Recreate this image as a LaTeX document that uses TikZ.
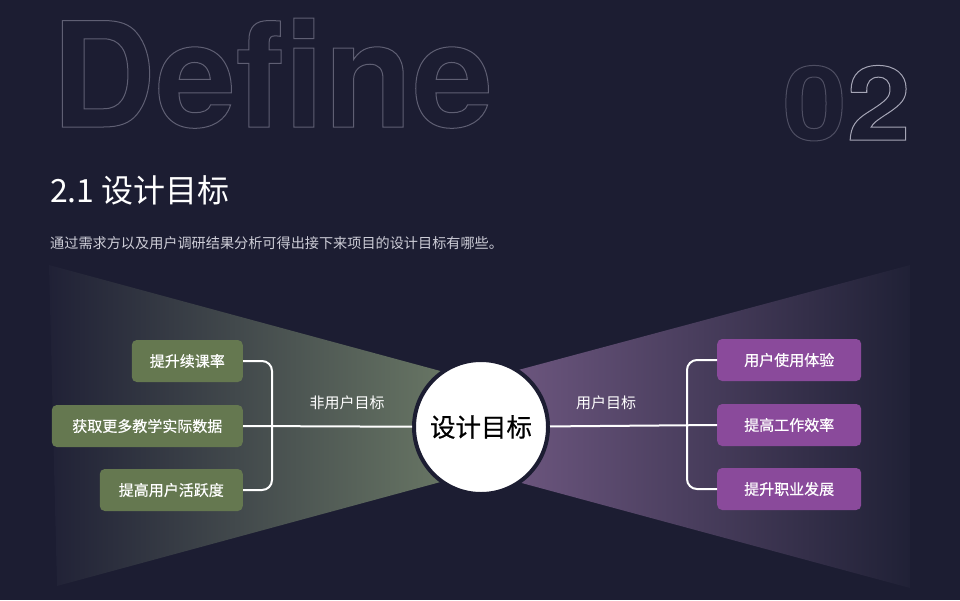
\documentclass[tikz,border=0pt]{standalone}
\usepackage{fontspec}
\setmainfont{Noto Sans CJK SC}
\newfontfamily\herosb[FakeStretch=0.99]{TeX Gyre Heros Bold}
\newfontfamily\herosn[FakeStretch=1.12]{TeX Gyre Heros Bold}
\newfontfamily\cjkmed[FakeBold=0.5]{Noto Sans CJK SC}
\usetikzlibrary{calc}
\definecolor{bg}{RGB}{28,29,50}
\definecolor{outl}{RGB}{95,95,115}
\definecolor{zeroc}{RGB}{78,78,98}
\definecolor{twoc}{RGB}{165,165,182}
\definecolor{gbox}{RGB}{101,120,80}
\definecolor{pbox}{RGB}{138,74,155}
\definecolor{gcone}{RGB}{110,125,104}
\definecolor{pcone}{RGB}{114,90,132}
\definecolor{conedark}{RGB}{32,33,54}
\definecolor{subt}{RGB}{205,205,215}
\newcommand\outlineon{\special{pdf:literal direct 1 Tr 1 w}}
\newcommand\outlineoff{\special{pdf:literal direct 0 Tr}}
\begin{document}
\begin{tikzpicture}[x=1pt,y=-1pt,
  boxst/.style={rounded corners=5pt, text=white, font=\cjkmed\fontsize{15}{18}\selectfont, inner sep=0pt, minimum height=42pt},
  gboxst/.style={boxst, fill=gbox, anchor=east},
  pboxst/.style={boxst, fill=pbox, anchor=west, minimum width=144pt},
  conn/.style={draw=white, line width=2pt},
  lab/.style={text=white, font=\fontsize{15}{18}\selectfont, inner sep=0pt}
]
\fill[bg] (0,0) rectangle (960,600);
\useasboundingbox (0,0) rectangle (960,600);

% big outline texts
\node[anchor=base west, inner sep=0pt, text=outl, font=\herosb\fontsize{146}{146}\selectfont] (define) at (51,127) {\outlineon Define\outlineoff};
\node[anchor=base east, inner sep=0pt, font=\herosn\fontsize{103}{103}\selectfont] (num) at (911,140) {\outlineon\textcolor{zeroc}{0}\textcolor{twoc}{2}\outlineoff};

% title and subtitle
\node[anchor=west, inner sep=0pt, text=white, font=\fontsize{32}{36}\selectfont] (title) at (50,190) {2.1 设计目标};
\node[anchor=west, inner sep=0pt, text=subt, font=\fontsize{14.15}{17}\selectfont] (sub) at (50,243) {通过需求方以及用户调研结果分析可得出接下来项目的设计目标有哪些。};

% cones
\shade[left color=conedark, right color=gcone] (49,265) -- (481,382) -- (481,471) -- (57,586) -- cycle;
\shade[left color=pcone, right color=conedark] (481,380) -- (910,265) -- (910,588) -- (481,472) -- cycle;

% centre
\node[circle, fill=white, draw=bg, line width=4pt, minimum size=134pt, inner sep=0pt, text=black, font=\cjkmed\fontsize{25.5}{30}\selectfont] (c) at (481,427) {设计目标};

% left boxes
\node[gboxst, minimum width=111pt] (l1) at (243,361) {提升续课率};
\node[gboxst, minimum width=191pt] (l2) at (243,426) {获取更多教学实际数据};
\node[gboxst, minimum width=143pt] (l3) at (243,490) {提高用户活跃度};

% right boxes
\node[pboxst] (r1) at (717,360) {用户使用体验};
\node[pboxst] (r2) at (717,425) {提高工作效率};
\node[pboxst] (r3) at (717,489) {提升职业发展};

\coordinate (jl) at (272,426);
\coordinate (jr) at (687,426);

% connectors
\draw[conn] (c) -- (l2.east);
\draw[conn, rounded corners=10pt] (l1.east) -- (l1.east -| jl) -- (l3.east -| jl) -- (l3.east);
\draw[conn] (c) -- (r2.west);
\draw[conn, rounded corners=10pt] (r1.west) -- (r1.west -| jr) -- (r3.west -| jr) -- (r3.west);

% labels
\node[lab] (ln) at (347,403) {非用户目标};
\node[lab] (rn) at (606,403) {用户目标};
\end{tikzpicture}
\end{document}
